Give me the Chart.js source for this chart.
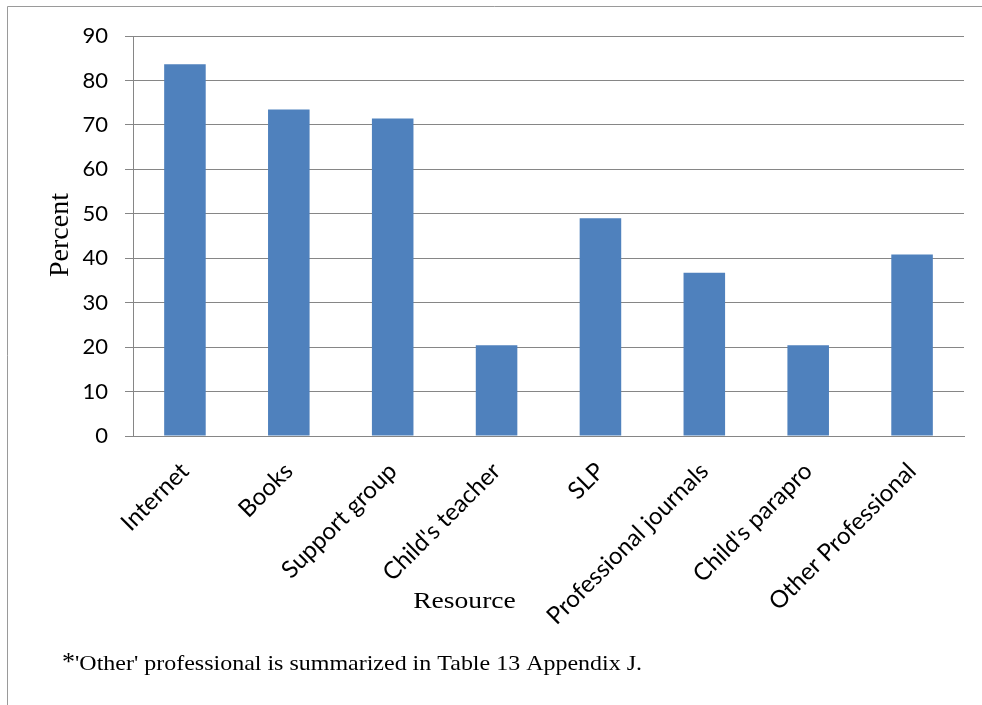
<!DOCTYPE html>
<html>
<head>
<meta charset="utf-8">
<style>
  html, body { margin: 0; padding: 0; background: #fff; }
  #wrap { position: relative; width: 982px; height: 705px; }
  canvas { display: block; }
</style>
<script src="https://cdn.jsdelivr.net/npm/chart.js@4"></script>
</head>
<body>
<div id="wrap"><canvas id="chart" width="982" height="705"></canvas></div>
<script>
// Resources used, percent of respondents
const categories = ["Internet", "Books", "Support group", "Child's teacher", "SLP",
                    "Professional journals", "Child's parapro", "Other Professional"];
const percentValues = [83.67, 73.47, 71.43, 20.41, 48.98, 36.73, 20.41, 40.82];
const yTicks = [0, 10, 20, 30, 40, 50, 60, 70, 80, 90];

const yTitle = "Percent";
const xTitle = "Resource";
const footnoteMark = "*";
const footnote = "'Other' professional is summarized in Table 13 Appendix J.";

const SANS = "Lato, 'Open Sans', sans-serif";
const SERIF = "'Liberation Serif', 'DejaVu Serif', serif";

// Draws text squeezed or widened horizontally by sx
function wideText(ctx, text, x, y, sx) {
  ctx.save();
  ctx.translate(x, y);
  ctx.scale(sx, 1);
  ctx.fillText(text, 0, 0);
  ctx.restore();
}

// Page frame, axis titles and footnote drawn straight onto the canvas
const decorations = {
  id: 'decorations',
  afterDraw(chart) {
    const ctx = chart.ctx;
    ctx.save();
    ctx.strokeStyle = '#9a9a9a';
    ctx.lineWidth = 1;
    ctx.beginPath();
    ctx.moveTo(7.5, 705);
    ctx.lineTo(7.5, 6.5);
    ctx.lineTo(982, 6.5);
    ctx.stroke();

    ctx.fillStyle = '#000';
    ctx.textBaseline = 'alphabetic';

    // y-axis title
    ctx.font = "28px " + SERIF;
    ctx.textAlign = 'center';
    ctx.save();
    ctx.translate(68, 235);
    ctx.rotate(-Math.PI / 2);
    ctx.fillText(yTitle, 0, 0);
    ctx.restore();

    // x-axis title
    ctx.font = "23px " + SERIF;
    wideText(ctx, xTitle, 464.5, 608, 1.2);

    // footnote
    ctx.textAlign = 'left';
    ctx.font = "26px " + SERIF;
    ctx.fillText(footnoteMark, 62, 670);
    ctx.font = "22px " + SERIF;
    wideText(ctx, footnote, 75, 670, 1.09);
    ctx.restore();
  }
};

new Chart(document.getElementById('chart'), {
  type: 'bar',
  data: {
    labels: categories,
    datasets: [{
      data: percentValues,
      backgroundColor: '#4F81BD',
      borderWidth: 0,
      barPercentage: 0.4,
      categoryPercentage: 1.0
    }]
  },
  options: {
    responsive: false,
    animation: false,
    layout: { padding: { left: 0, top: 36, right: 18, bottom: 0 } },
    plugins: { legend: { display: false }, tooltip: { enabled: false } },
    scales: {
      x: {
        grid: { display: false },
        border: { display: true, color: '#868686', width: 1 },
        ticks: {
          color: '#000',
          font: { family: SANS, size: 24 },
          maxRotation: 45, minRotation: 45,
          padding: 13
        },
        afterFit(scale) { scale.height = 705 - 436; }
      },
      y: {
        min: 0, max: 90,
        afterBuildTicks(scale) { scale.ticks = yTicks.map(v => ({ value: v })); },
        grid: { color: '#868686', lineWidth: 1, tickLength: 8, drawTicks: true },
        border: { display: true, color: '#868686', width: 1 },
        ticks: {
          color: '#000',
          font: { family: SANS, size: 22 },
          padding: 17
        },
        afterFit(scale) { scale.width = 133; }
      }
    }
  },
  plugins: [decorations]
});
</script>
</body>
</html>
